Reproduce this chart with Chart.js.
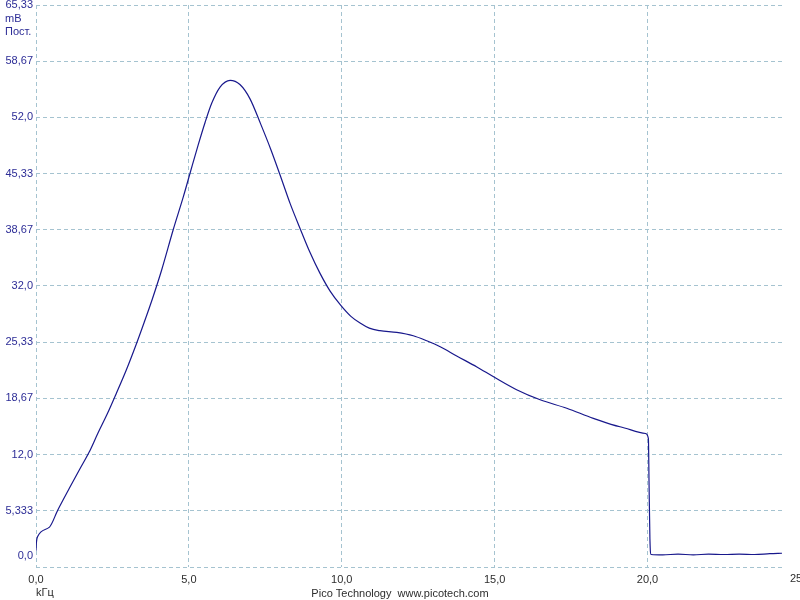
<!DOCTYPE html>
<html>
<head>
<meta charset="utf-8">
<script src="https://cdn.jsdelivr.net/npm/chart.js@4"></script>
<style>
html,body{margin:0;padding:0;background:#fff;overflow:hidden;}
#wrap{width:800px;height:600px;position:relative;}
</style>
</head>
<body>
<div id="wrap"><canvas id="c" width="800" height="600"></canvas></div>
<script>
// ---- data ----
const freqKHz = [0, 0.01, 0.05, 0.44, 0.71, 1.09, 1.42, 1.74, 2.02, 2.34, 2.62, 2.95, 3.27, 3.54, 3.8, 4.11, 4.49, 4.82, 5.04, 5.31, 5.53, 5.75, 6.02, 6.35, 6.67, 7.0, 7.35, 7.68, 7.98, 8.31, 8.64, 8.96, 9.29, 9.62, 9.97, 10.3, 10.6, 10.9, 11.25, 11.8, 12.34, 12.78, 13.22, 13.76, 14.42, 14.98, 15.72, 16.49, 17.36, 18.23, 19.1, 19.94, 20.03, 20.05, 20.08, 20.12, 20.5, 21.0, 21.5, 22.0, 22.5, 23.0, 23.5, 24.0, 24.4];
const levelMV = [0.6, 1.4, 2.25, 3.4, 5.4, 8.0, 10.2, 12.3, 14.5, 16.9, 19.2, 22.0, 25.0, 27.7, 30.4, 33.9, 38.7, 42.6, 45.4, 48.8, 51.4, 53.7, 55.6, 56.4, 55.9, 54.2, 51.2, 48.2, 45.2, 41.8, 38.8, 36.0, 33.5, 31.4, 29.7, 28.4, 27.6, 27.0, 26.7, 26.5, 26.1, 25.5, 24.8, 23.7, 22.4, 21.2, 19.7, 18.5, 17.5, 16.3, 15.3, 14.5, 13.9, 9.0, 2.0, 0.15, 0.1, 0.2, 0.1, 0.2, 0.15, 0.2, 0.15, 0.25, 0.3];

const xTickValues = [0, 5, 10, 15, 20, 25];
const xTickLabels = ['0,0', '5,0', '10,0', '15,0', '20,0', '25'];
const yTickValues = [-1.3333, 0, 5.3333, 12, 18.6667, 25.3333, 32, 38.6667, 45.3333, 52, 58.6667, 65.3333];
const yTickLabels = ['', '0,0', '5,333', '12,0', '18,67', '25,33', '32,0', '38,67', '45,33', '52,0', '58,67', '65,33'];
const yUnitLines = ['mB', 'Пост.'];
const xUnit = 'kГц';
const footer = 'Pico Technology  www.picotech.com';

const X_MIN = 0, X_MAX = 24.4, Y_MIN = -1.3333, Y_MAX = 65.3333;

const FAMILY = '"Liberation Sans", Arial, sans-serif';
const FONT = '11px ' + FAMILY;
const BLUE_TXT = 'rgb(44,44,150)';
const DARK_TXT = 'rgb(45,45,45)';
const GRID = 'rgb(165,195,208)';

const points = freqKHz.map((f, i) => ({x: f, y: levelMV[i]}));

const extras = {
  id: 'extras',
  afterDraw(chart) {
    const ctx = chart.ctx;
    const xs = chart.scales.x;
    ctx.save();
    ctx.font = FONT;
    ctx.textBaseline = 'middle';
    // last x label beyond visible range (pushed inside canvas)
    ctx.fillStyle = DARK_TXT;
    ctx.textAlign = 'center';
    const lastIdx = xTickValues.length - 1;
    const lx = Math.min(xs.getPixelForValue(xTickValues[lastIdx]), chart.width - 4);
    ctx.fillText(xTickLabels[lastIdx], lx, 579);
    // unit labels under top y tick
    ctx.fillStyle = BLUE_TXT;
    ctx.textAlign = 'left';
    yUnitLines.forEach((t, i) => ctx.fillText(t, 5, 19 + i * 13));
    // x unit + footer
    ctx.fillStyle = DARK_TXT;
    ctx.fillText(xUnit, 36, 593);
    ctx.textAlign = 'center';
    ctx.fillText(footer, 400, 594);
    ctx.restore();
  }
};

new Chart(document.getElementById('c'), {
  type: 'line',
  data: {
    datasets: [{
      data: points,
      borderColor: 'rgb(24,24,140)',
      borderWidth: 1.2,
      pointRadius: 0,
      fill: false,
      cubicInterpolationMode: 'monotone'
    }]
  },
  options: {
    responsive: false,
    animation: false,
    layout: {padding: {left: 0, right: 18, top: 5, bottom: 0}},
    plugins: {legend: {display: false}, tooltip: {enabled: false}},
    scales: {
      x: {
        type: 'linear',
        min: X_MIN, max: X_MAX,
        afterBuildTicks: s => { s.ticks = xTickValues.filter(v => v <= X_MAX).map(v => ({value: v})); },
        afterFit: s => { s.height = 33; s.paddingLeft = 0; s.paddingRight = 0; },
        border: {display: false, dash: [4, 3]},
        grid: {color: GRID, lineWidth: 1, drawTicks: false},
        ticks: {
          font: {family: FAMILY, size: 11},
          color: DARK_TXT,
          padding: 6,
          maxRotation: 0,
          autoSkip: false,
          callback: (v) => { const i = xTickValues.indexOf(v); return i >= 0 ? xTickLabels[i] : ''; }
        }
      },
      y: {
        type: 'linear',
        min: Y_MIN, max: Y_MAX,
        afterBuildTicks: s => { s.ticks = yTickValues.map(v => ({value: v})); },
        afterFit: s => { s.width = 36; s.paddingTop = 0; s.paddingBottom = 0; },
        border: {display: false, dash: [4, 3]},
        grid: {
          color: ctx => (ctx.tick && ctx.tick.value === 0) ? 'rgba(0,0,0,0)' : GRID,
          lineWidth: 1, drawTicks: false
        },
        ticks: {
          font: {family: FAMILY, size: 11},
          color: BLUE_TXT,
          padding: 3,
          autoSkip: false,
          callback: (v) => { const i = yTickValues.indexOf(v); return i >= 0 ? yTickLabels[i] : ''; }
        }
      }
    }
  },
  plugins: [extras]
});
</script>
</body>
</html>
